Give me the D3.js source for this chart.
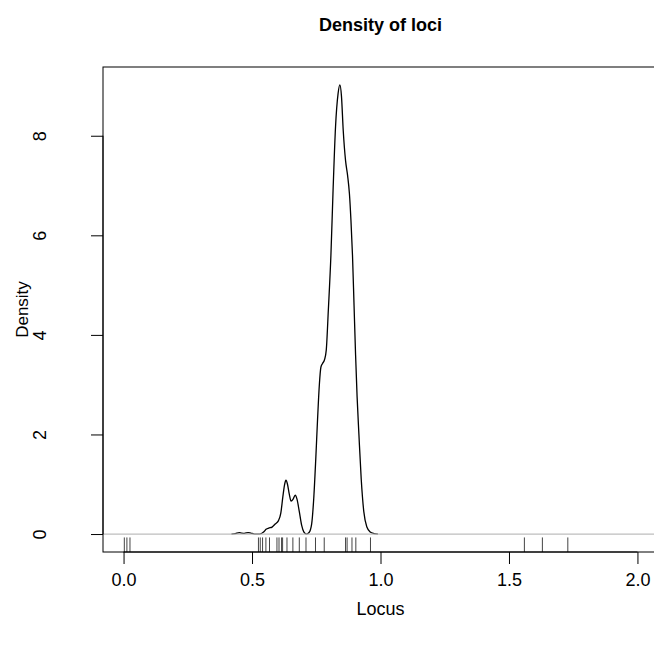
<!DOCTYPE html>
<html>
<head>
<meta charset="utf-8">
<title>Density of loci</title>
<script src="https://d3js.org/d3.v7.min.js"></script>
<style>
  body { margin: 0; background: #fff; }
  svg text { font-family: "Liberation Sans", Arial, sans-serif; fill: #000; }
</style>
</head>
<body>
<div id="chart"></div>
<script>
// density curve: [locus, density]
var curveLocus = [0.42, 0.435, 0.45, 0.46, 0.47, 0.485, 0.495, 0.51, 0.53, 0.545, 0.556, 0.565, 0.578, 0.59,
  0.603, 0.612, 0.62, 0.627, 0.632, 0.638, 0.645, 0.652, 0.66, 0.668, 0.675, 0.684, 0.693, 0.702, 0.712, 0.722,
  0.732, 0.74, 0.748, 0.755, 0.762, 0.768, 0.775, 0.782, 0.789, 0.797, 0.807, 0.815, 0.825, 0.835, 0.842, 0.848,
  0.855, 0.864, 0.872, 0.879, 0.885, 0.891, 0.897, 0.903, 0.909, 0.916, 0.925, 0.935, 0.947, 0.96, 0.975, 0.99];
var curveDensity = [0, 0.01, 0.03, 0.02, 0.015, 0.03, 0.02, 0, 0, 0.04, 0.1, 0.12, 0.14, 0.2,
  0.27, 0.42, 0.75, 1.0, 1.08, 1.0, 0.8, 0.66, 0.7, 0.78, 0.7, 0.45, 0.18, 0.04, 0, 0.03,
  0.2, 0.7, 1.5, 2.3, 3.0, 3.35, 3.43, 3.5, 3.7, 4.5, 5.6, 6.84, 8.18, 8.85, 9.02, 8.8,
  8.1, 7.5, 7.2, 6.84, 6.3, 5.6, 4.6, 3.6, 2.75, 2.0, 1.1, 0.45, 0.14, 0.04, 0.01, 0];

// rug (observed loci)
var rugLocus = [0.003, 0.013, 0.025,
  0.525, 0.532, 0.541, 0.554, 0.568, 0.597, 0.605, 0.615, 0.619, 0.636, 0.659, 0.684, 0.710, 0.747, 0.781,
  0.864, 0.870, 0.889, 0.904, 0.961,
  1.560, 1.630, 1.729];

var xTicks = [0, 0.5, 1, 1.5, 2];
var yTicks = [0, 2, 4, 6, 8];

var W = 654, H = 647;
var margin = {top: 67, left: 103, bottom: 95, right: -4};
var pw = W - margin.left - margin.right,
    ph = H - margin.top - margin.bottom;

var svg = d3.select("#chart").append("svg")
    .attr("width", W).attr("height", H);

var g = svg.append("g")
    .attr("transform", "translate(" + margin.left + "," + margin.top + ")");

// R style: limits extended by 4%
var x = d3.scaleLinear().domain([-0.08, 2.08]).range([0, pw]);
var ymax = d3.max(curveDensity);
var y = d3.scaleLinear().domain([-0.04 * ymax, ymax * 1.04]).range([ph, 0]);

var data = curveLocus.map(function(d, i) { return {x: d, y: curveDensity[i]}; });

// density line
g.append("path")
    .datum(data)
    .attr("fill", "none")
    .attr("stroke", "#000")
    .attr("stroke-width", 1.3)
    .attr("d", d3.line()
        .x(function(d) { return x(d.x); })
        .y(function(d) { return y(d.y); })
        .curve(d3.curveMonotoneX));

// zero line
g.append("line")
    .attr("x1", 0).attr("x2", pw)
    .attr("y1", y(0)).attr("y2", y(0))
    .attr("stroke", "#bebebe").attr("stroke-width", 1.2);

// rug
g.selectAll(".rug").data(rugLocus).enter().append("line")
    .attr("class", "rug")
    .attr("x1", function(d) { return x(d); }).attr("x2", function(d) { return x(d); })
    .attr("y1", ph).attr("y2", ph - 0.03 * ph)
    .attr("stroke", "#444").attr("stroke-width", 1);

// box
g.append("rect")
    .attr("x", 0).attr("y", 0).attr("width", pw).attr("height", ph)
    .attr("fill", "none").attr("stroke", "#000").attr("stroke-width", 1);

// axes
var xAxis = g.append("g")
    .attr("transform", "translate(0," + ph + ")")
    .call(d3.axisBottom(x).tickValues(xTicks).tickFormat(d3.format(".1f")).tickSize(12).tickPadding(9));
var yAxis = g.append("g")
    .call(d3.axisLeft(y).tickValues(yTicks).tickFormat(d3.format("d")).tickSize(12).tickPadding(10));
[xAxis, yAxis].forEach(function(a) {
  a.select(".domain").remove();
  a.selectAll("line").attr("stroke", "#000");
  a.selectAll("text").style("font-size", "18px").style("font-family", "Liberation Sans, Arial, sans-serif");
});
yAxis.selectAll(".tick text")
    .attr("x", null).attr("dy", null)
    .attr("text-anchor", "middle")
    .attr("transform", "translate(-57,0) rotate(-90)")
    .attr("y", 0);

// axis lines from first to last tick
g.append("line").attr("x1", x(0)).attr("x2", x(2)).attr("y1", ph).attr("y2", ph).attr("stroke", "#000");
g.append("line").attr("x1", 0).attr("x2", 0).attr("y1", y(0)).attr("y2", y(8)).attr("stroke", "#000");

// titles
svg.append("text")
    .attr("x", margin.left + pw / 2).attr("y", 31)
    .attr("text-anchor", "middle")
    .style("font-size", "18px").style("font-weight", "bold")
    .text("Density of loci");
svg.append("text")
    .attr("x", margin.left + pw / 2).attr("y", 615)
    .attr("text-anchor", "middle")
    .style("font-size", "18px")
    .text("Locus");
svg.append("text")
    .attr("transform", "translate(28," + (margin.top + ph / 2) + ") rotate(-90)")
    .attr("text-anchor", "middle")
    .style("font-size", "17px")
    .text("Density");
</script>
</body>
</html>
